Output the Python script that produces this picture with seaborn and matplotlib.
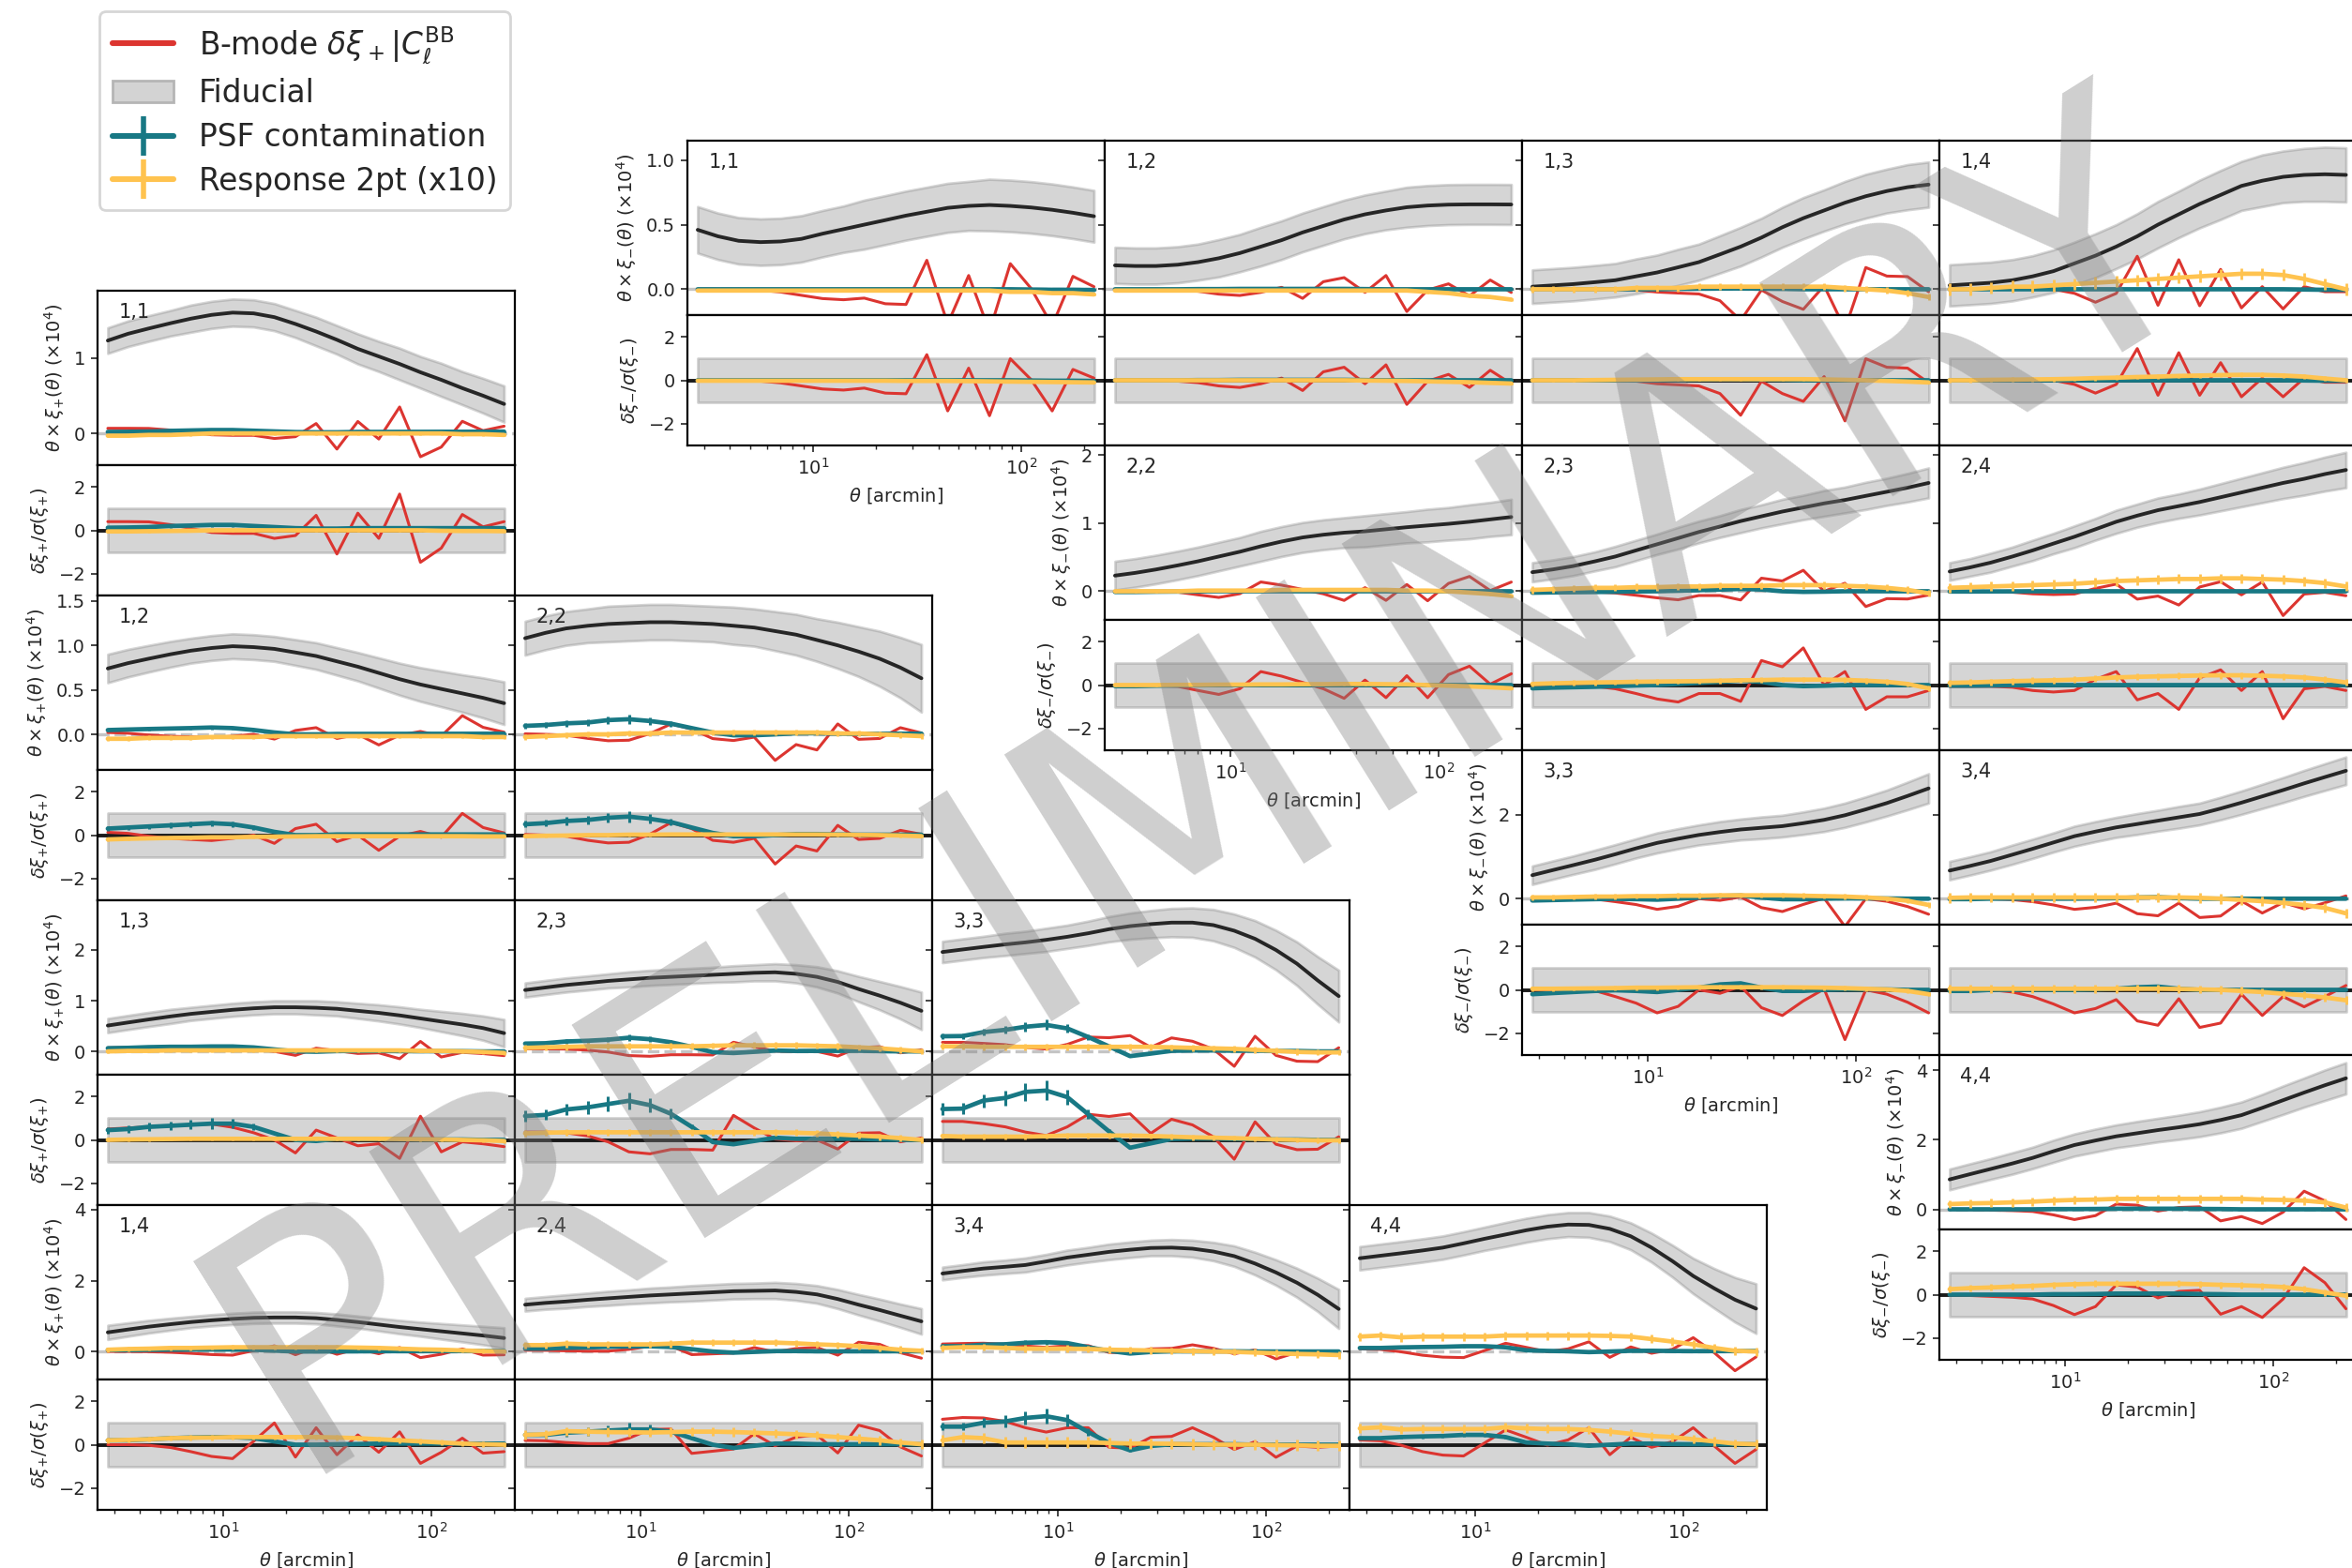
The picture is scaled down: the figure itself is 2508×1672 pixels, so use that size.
import matplotlib
matplotlib.use("Agg")
import matplotlib.pyplot as plt
from matplotlib.lines import Line2D
from matplotlib.patches import Patch
import seaborn as sns

# ---------------------------------------------------------------------------
# Angular bins (arcmin)
THETA = [2.8, 3.5, 4.4, 5.6, 7.0, 8.8, 11.1, 14.0, 17.6, 22.2,
         27.9, 35.1, 44.2, 55.7, 70.1, 88.2, 111.0, 140.0, 176.0, 222.0]

# ---------------------------------------------------------------------------
# xi_plus : fiducial (x1e4), 1-sigma, B-mode / sigma, PSF / sigma, PSF error / sigma,
#           response (x10, x1e4), response / sigma
XIP_11_FID = [1.23, 1.32, 1.39, 1.46, 1.52, 1.57, 1.60, 1.59, 1.54, 1.45, 1.35, 1.24, 1.12, 1.02, 0.92, 0.81, 0.71, 0.60, 0.50, 0.39]
XIP_11_SIG = [0.17, 0.17, 0.17, 0.17, 0.18, 0.18, 0.18, 0.18, 0.18, 0.18, 0.19, 0.19, 0.20, 0.20, 0.21, 0.21, 0.22, 0.22, 0.23, 0.24]
XIP_11_BMODE = [0.40, 0.40, 0.39, 0.26, 0.09, -0.10, -0.14, -0.14, -0.37, -0.24, 0.69, -1.09, 0.79, -0.37, 1.67, -1.47, -0.82, 0.73, 0.16, 0.40]
XIP_11_PSF = [0.12, 0.13, 0.15, 0.20, 0.22, 0.25, 0.25, 0.20, 0.15, 0.10, 0.08, 0.08, 0.10, 0.10, 0.10, 0.10, 0.10, 0.10, 0.10, 0.10]
XIP_11_PSF_ERR = [0.06, 0.06, 0.07, 0.08, 0.08, 0.09, 0.08, 0.07, 0.05, 0.04, 0.03, 0.03, 0.03, 0.03, 0.03, 0.03, 0.03, 0.03, 0.03, 0.03]
XIP_11_RESP = [-0.03, -0.03, -0.02, -0.02, -0.01, 0.0, 0.0, 0.0, 0.0, 0.0, 0.0, 0.0, 0.0, 0.0, 0.0, 0.0, 0.0, -0.01, -0.01, -0.02]
XIP_11_RESP_SNR = [-0.05, -0.05, -0.04, -0.03, -0.02, 0.0, 0.0, 0.0, 0.0, 0.0, 0.0, 0.0, 0.0, 0.0, 0.0, 0.0, -0.02, -0.03, -0.03, -0.04]

XIP_12_FID = [0.74, 0.80, 0.85, 0.90, 0.94, 0.97, 0.99, 0.98, 0.96, 0.92, 0.88, 0.82, 0.76, 0.69, 0.62, 0.56, 0.51, 0.46, 0.41, 0.35]
XIP_12_SIG = [0.16, 0.155, 0.15, 0.145, 0.14, 0.14, 0.14, 0.14, 0.14, 0.145, 0.15, 0.155, 0.16, 0.17, 0.18, 0.19, 0.20, 0.21, 0.225, 0.24]
XIP_12_BMODE = [0.13, 0.08, -0.05, -0.15, -0.20, -0.25, -0.15, 0.0, -0.38, 0.30, 0.50, -0.30, 0.0, -0.70, -0.05, 0.17, -0.10, 1.00, 0.35, 0.10]
XIP_12_PSF = [0.30, 0.35, 0.40, 0.45, 0.50, 0.55, 0.50, 0.35, 0.15, 0.0, 0.0, 0.03, 0.03, 0.03, 0.03, 0.03, 0.03, 0.03, 0.03, 0.03]
XIP_12_PSF_ERR = [0.10, 0.10, 0.11, 0.12, 0.13, 0.14, 0.13, 0.10, 0.06, 0.04, 0.03, 0.03, 0.03, 0.03, 0.03, 0.03, 0.03, 0.03, 0.03, 0.03]
XIP_12_RESP = [-0.05, -0.05, -0.04, -0.04, -0.04, -0.03, -0.03, -0.03, -0.02, -0.02, -0.02, -0.02, -0.02, -0.02, -0.02, -0.02, -0.02, -0.02, -0.03, -0.03]
XIP_12_RESP_SNR = [-0.20, -0.17, -0.15, -0.13, -0.12, -0.10, -0.10, -0.08, -0.07, -0.06, -0.05, -0.05, -0.05, -0.05, -0.05, -0.05, -0.05, -0.05, -0.06, -0.06]

XIP_22_FID = [1.08, 1.14, 1.19, 1.22, 1.24, 1.25, 1.26, 1.26, 1.25, 1.24, 1.22, 1.20, 1.16, 1.12, 1.06, 1.00, 0.93, 0.85, 0.75, 0.63]
XIP_22_SIG = [0.19, 0.19, 0.19, 0.19, 0.20, 0.20, 0.20, 0.20, 0.20, 0.20, 0.21, 0.21, 0.22, 0.23, 0.24, 0.26, 0.28, 0.31, 0.34, 0.38]
XIP_22_BMODE = [0.03, 0.0, -0.05, -0.24, -0.36, -0.33, 0.04, 0.58, 0.30, -0.24, -0.33, -0.15, -1.33, -0.50, -0.73, 0.45, -0.20, -0.15, 0.22, 0.04]
XIP_22_PSF = [0.50, 0.55, 0.65, 0.70, 0.80, 0.85, 0.75, 0.60, 0.35, 0.10, -0.05, -0.05, 0.0, 0.05, 0.05, 0.03, 0.02, 0.02, 0.02, 0.02]
XIP_22_PSF_ERR = [0.15, 0.16, 0.18, 0.20, 0.22, 0.25, 0.21, 0.15, 0.08, 0.05, 0.03, 0.03, 0.03, 0.03, 0.03, 0.03, 0.03, 0.03, 0.03, 0.03]
XIP_22_RESP = [-0.03, -0.02, -0.01, 0.0, 0.0, 0.01, 0.01, 0.02, 0.02, 0.02, 0.02, 0.02, 0.02, 0.02, 0.02, 0.01, 0.01, 0.0, -0.01, -0.02]
XIP_22_RESP_SNR = [-0.05, -0.03, -0.02, 0.0, 0.0, 0.02, 0.02, 0.03, 0.03, 0.03, 0.03, 0.03, 0.03, 0.03, 0.03, 0.02, 0.01, 0.0, -0.02, -0.05]

XIP_13_FID = [0.51, 0.57, 0.63, 0.69, 0.74, 0.78, 0.82, 0.85, 0.87, 0.87, 0.86, 0.84, 0.80, 0.76, 0.71, 0.65, 0.59, 0.53, 0.46, 0.36]
XIP_13_SIG = [0.14, 0.14, 0.14, 0.14, 0.13, 0.13, 0.13, 0.13, 0.13, 0.13, 0.14, 0.14, 0.15, 0.16, 0.17, 0.18, 0.20, 0.22, 0.24, 0.27]
XIP_13_BMODE = [0.50, 0.55, 0.60, 0.64, 0.69, 0.73, 0.58, 0.33, 0.0, -0.60, 0.45, 0.09, -0.27, -0.18, -0.85, 1.09, -0.55, -0.09, -0.18, -0.31]
XIP_13_PSF = [0.45, 0.50, 0.60, 0.65, 0.70, 0.75, 0.75, 0.60, 0.30, 0.0, -0.05, 0.05, 0.05, 0.05, 0.03, 0.02, 0.02, 0.02, 0.0, 0.0]
XIP_13_PSF_ERR = [0.15, 0.16, 0.18, 0.20, 0.22, 0.25, 0.21, 0.15, 0.08, 0.05, 0.03, 0.03, 0.03, 0.03, 0.03, 0.03, 0.03, 0.03, 0.03, 0.03]
XIP_13_RESP = [0.0, 0.01, 0.01, 0.02, 0.02, 0.02, 0.02, 0.02, 0.02, 0.02, 0.02, 0.02, 0.02, 0.02, 0.02, 0.01, 0.01, 0.0, -0.01, -0.03]
XIP_13_RESP_SNR = [0.0, 0.02, 0.03, 0.04, 0.05, 0.05, 0.05, 0.05, 0.05, 0.05, 0.05, 0.05, 0.05, 0.05, 0.04, 0.03, 0.02, 0.0, -0.02, -0.05]

XIP_23_FID = [1.21, 1.26, 1.31, 1.35, 1.39, 1.42, 1.45, 1.47, 1.49, 1.51, 1.53, 1.55, 1.56, 1.53, 1.47, 1.37, 1.23, 1.10, 0.96, 0.80]
XIP_23_SIG = [0.14, 0.14, 0.14, 0.14, 0.14, 0.15, 0.15, 0.15, 0.15, 0.15, 0.16, 0.16, 0.17, 0.18, 0.20, 0.22, 0.25, 0.28, 0.32, 0.37]
XIP_23_BMODE = [0.36, 0.36, 0.33, 0.18, -0.09, -0.55, -0.64, -0.44, -0.44, -0.47, 1.13, 0.55, 0.04, -0.04, 0.0, -0.42, 0.31, 0.33, -0.09, 0.09]
XIP_23_PSF = [1.10, 1.15, 1.40, 1.50, 1.65, 1.80, 1.60, 1.20, 0.60, -0.10, -0.20, -0.05, 0.10, 0.05, 0.05, 0.05, 0.05, 0.02, 0.0, 0.0]
XIP_23_PSF_ERR = [0.24, 0.24, 0.27, 0.30, 0.34, 0.40, 0.34, 0.24, 0.12, 0.06, 0.04, 0.03, 0.03, 0.03, 0.03, 0.03, 0.03, 0.03, 0.03, 0.03]
XIP_23_RESP = [0.07, 0.08, 0.09, 0.10, 0.10, 0.10, 0.10, 0.10, 0.10, 0.11, 0.12, 0.12, 0.12, 0.12, 0.11, 0.10, 0.08, 0.06, 0.03, 0.0]
XIP_23_RESP_SNR = [0.30, 0.33, 0.35, 0.35, 0.35, 0.35, 0.35, 0.35, 0.35, 0.35, 0.35, 0.35, 0.35, 0.33, 0.30, 0.25, 0.20, 0.15, 0.08, 0.0]

XIP_33_FID = [1.96, 2.01, 2.06, 2.11, 2.15, 2.20, 2.26, 2.33, 2.41, 2.47, 2.51, 2.54, 2.54, 2.49, 2.38, 2.22, 2.00, 1.73, 1.40, 1.09]
XIP_33_SIG = [0.21, 0.21, 0.21, 0.22, 0.22, 0.23, 0.23, 0.24, 0.25, 0.26, 0.27, 0.28, 0.29, 0.31, 0.33, 0.36, 0.39, 0.43, 0.47, 0.51]
XIP_33_BMODE = [0.85, 0.85, 0.75, 0.60, 0.36, 0.20, 0.60, 1.18, 1.08, 1.20, 0.30, 0.95, 0.69, 0.14, -0.89, 0.83, -0.20, -0.45, -0.43, 0.14]
XIP_33_PSF = [1.42, 1.44, 1.81, 1.93, 2.21, 2.27, 1.97, 1.18, 0.39, -0.36, -0.16, 0.04, 0.06, 0.06, 0.04, 0.04, 0.02, 0.02, 0.0, 0.0]
XIP_33_PSF_ERR = [0.27, 0.27, 0.30, 0.34, 0.40, 0.45, 0.35, 0.22, 0.11, 0.06, 0.04, 0.03, 0.03, 0.03, 0.03, 0.03, 0.03, 0.03, 0.03, 0.03]
XIP_33_RESP = [0.10, 0.10, 0.09, 0.09, 0.09, 0.09, 0.09, 0.09, 0.09, 0.09, 0.09, 0.08, 0.07, 0.06, 0.05, 0.03, 0.01, -0.01, -0.02, -0.02]
XIP_33_RESP_SNR = [0.18, 0.15, 0.15, 0.15, 0.15, 0.17, 0.20, 0.20, 0.20, 0.20, 0.18, 0.15, 0.12, 0.10, 0.08, 0.05, 0.02, 0.0, -0.02, -0.02]

XIP_14_FID = [0.54, 0.62, 0.70, 0.77, 0.83, 0.88, 0.92, 0.95, 0.96, 0.96, 0.94, 0.89, 0.83, 0.76, 0.69, 0.63, 0.57, 0.51, 0.45, 0.38]
XIP_14_SIG = [0.20, 0.19, 0.18, 0.17, 0.16, 0.16, 0.16, 0.16, 0.16, 0.16, 0.16, 0.17, 0.17, 0.18, 0.19, 0.20, 0.22, 0.24, 0.26, 0.29]
XIP_14_BMODE = [0.0, 0.0, -0.03, -0.13, -0.32, -0.54, -0.64, 0.16, 1.00, -0.57, 0.78, -0.46, 0.45, -0.35, 0.59, -0.86, -0.35, 0.30, -0.39, -0.32]
XIP_14_PSF = [0.20, 0.20, 0.25, 0.30, 0.33, 0.35, 0.35, 0.30, 0.15, 0.0, 0.0, 0.02, 0.03, 0.05, 0.05, 0.05, 0.05, 0.05, 0.05, 0.05]
XIP_14_PSF_ERR = [0.06, 0.06, 0.07, 0.08, 0.08, 0.09, 0.08, 0.07, 0.05, 0.04, 0.03, 0.03, 0.03, 0.03, 0.03, 0.03, 0.03, 0.03, 0.03, 0.03]
XIP_14_RESP = [0.05, 0.07, 0.08, 0.10, 0.10, 0.11, 0.12, 0.12, 0.12, 0.12, 0.12, 0.12, 0.11, 0.10, 0.08, 0.06, 0.05, 0.03, 0.01, 0.0]
XIP_14_RESP_SNR = [0.20, 0.22, 0.25, 0.30, 0.32, 0.33, 0.35, 0.35, 0.35, 0.35, 0.35, 0.33, 0.30, 0.25, 0.20, 0.15, 0.10, 0.05, 0.02, 0.0]

XIP_24_FID = [1.32, 1.37, 1.41, 1.46, 1.50, 1.54, 1.58, 1.61, 1.64, 1.67, 1.70, 1.71, 1.72, 1.68, 1.61, 1.48, 1.32, 1.17, 1.01, 0.85]
XIP_24_SIG = [0.18, 0.18, 0.19, 0.19, 0.20, 0.20, 0.21, 0.21, 0.22, 0.22, 0.22, 0.22, 0.23, 0.24, 0.25, 0.27, 0.29, 0.31, 0.33, 0.36]
XIP_24_BMODE = [0.20, 0.18, 0.10, 0.05, 0.05, 0.30, 0.70, 0.72, -0.40, -0.30, -0.20, 0.50, -0.05, 0.35, 0.45, -0.38, 0.90, 0.65, -0.10, -0.52]
XIP_24_PSF = [0.45, 0.45, 0.55, 0.60, 0.65, 0.70, 0.70, 0.60, 0.30, 0.0, -0.15, -0.05, 0.05, 0.05, 0.02, 0.02, 0.02, 0.02, 0.02, 0.02]
XIP_24_PSF_ERR = [0.15, 0.15, 0.17, 0.20, 0.24, 0.30, 0.24, 0.15, 0.08, 0.05, 0.03, 0.03, 0.03, 0.03, 0.03, 0.03, 0.03, 0.03, 0.03, 0.03]
XIP_24_RESP = [0.18, 0.18, 0.22, 0.20, 0.20, 0.20, 0.20, 0.22, 0.25, 0.25, 0.25, 0.25, 0.25, 0.23, 0.20, 0.18, 0.15, 0.10, 0.05, 0.02]
XIP_24_RESP_SNR = [0.45, 0.48, 0.62, 0.60, 0.58, 0.57, 0.56, 0.58, 0.60, 0.60, 0.58, 0.55, 0.52, 0.48, 0.42, 0.35, 0.28, 0.20, 0.10, 0.02]

XIP_34_FID = [2.20, 2.27, 2.34, 2.39, 2.44, 2.54, 2.65, 2.73, 2.81, 2.87, 2.92, 2.93, 2.90, 2.82, 2.69, 2.48, 2.23, 1.94, 1.60, 1.20]
XIP_34_SIG = [0.18, 0.18, 0.19, 0.19, 0.20, 0.20, 0.21, 0.21, 0.22, 0.22, 0.22, 0.23, 0.24, 0.26, 0.29, 0.32, 0.36, 0.41, 0.47, 0.55]
XIP_34_BMODE = [1.17, 1.25, 1.23, 1.07, 0.78, 0.58, 0.78, 0.78, -0.12, -0.16, 0.34, 0.38, 0.78, 0.34, -0.22, 0.14, -0.58, -0.06, -0.12, -0.06]
XIP_34_PSF = [0.83, 0.83, 1.01, 1.07, 1.23, 1.31, 1.13, 0.58, 0.08, -0.26, -0.06, 0.02, 0.02, 0.02, 0.02, 0.0, 0.0, 0.0, 0.0, 0.0]
XIP_34_PSF_ERR = [0.18, 0.18, 0.23, 0.28, 0.32, 0.35, 0.28, 0.17, 0.09, 0.05, 0.03, 0.03, 0.03, 0.03, 0.03, 0.03, 0.03, 0.03, 0.03, 0.03]
XIP_34_RESP = [0.10, 0.12, 0.12, 0.10, 0.08, 0.08, 0.08, 0.07, 0.05, 0.04, 0.03, 0.02, 0.01, 0.0, -0.01, -0.03, -0.05, -0.07, -0.08, -0.10]
XIP_34_RESP_SNR = [0.20, 0.35, 0.30, 0.10, 0.10, 0.10, 0.10, 0.10, 0.08, 0.05, 0.05, 0.04, 0.02, 0.0, 0.0, 0.0, -0.02, -0.03, -0.05, -0.05]

XIP_44_FID = [2.63, 2.70, 2.77, 2.85, 2.93, 3.05, 3.18, 3.30, 3.42, 3.52, 3.58, 3.57, 3.46, 3.25, 2.93, 2.55, 2.13, 1.78, 1.46, 1.21]
XIP_44_SIG = [0.33, 0.33, 0.33, 0.33, 0.33, 0.33, 0.33, 0.34, 0.34, 0.34, 0.34, 0.35, 0.36, 0.38, 0.41, 0.45, 0.50, 0.56, 0.63, 0.70]
XIP_44_BMODE = [0.22, 0.18, -0.02, -0.32, -0.48, -0.52, 0.08, 0.68, 0.34, -0.02, 0.22, 0.78, -0.46, 0.34, -0.12, 0.14, 0.78, -0.06, -0.86, -0.22]
XIP_44_PSF = [0.30, 0.30, 0.35, 0.38, 0.40, 0.45, 0.45, 0.35, 0.10, 0.05, 0.02, -0.05, 0.0, 0.05, 0.05, 0.03, 0.02, 0.02, 0.02, 0.02]
XIP_44_PSF_ERR = [0.07, 0.07, 0.08, 0.08, 0.09, 0.10, 0.09, 0.07, 0.05, 0.04, 0.03, 0.03, 0.03, 0.03, 0.03, 0.03, 0.03, 0.03, 0.03, 0.03]
XIP_44_RESP = [0.42, 0.45, 0.40, 0.42, 0.42, 0.42, 0.42, 0.45, 0.45, 0.45, 0.45, 0.45, 0.44, 0.42, 0.35, 0.28, 0.20, 0.10, 0.02, 0.0]
XIP_44_RESP_SNR = [0.75, 0.80, 0.70, 0.72, 0.72, 0.72, 0.72, 0.80, 0.75, 0.72, 0.72, 0.68, 0.60, 0.50, 0.40, 0.35, 0.25, 0.15, 0.05, 0.02]

# ---------------------------------------------------------------------------
# xi_minus : same quantities
XIM_11_FID = [0.46, 0.41, 0.375, 0.365, 0.37, 0.39, 0.43, 0.465, 0.50, 0.535, 0.57, 0.60, 0.63, 0.645, 0.652, 0.645, 0.633, 0.615, 0.592, 0.565]
XIM_11_SIG = [0.18, 0.18, 0.18, 0.18, 0.18, 0.18, 0.18, 0.18, 0.19, 0.19, 0.19, 0.19, 0.19, 0.19, 0.20, 0.20, 0.20, 0.20, 0.20, 0.20]
XIM_11_BMODE = [0.0, 0.0, 0.0, -0.04, -0.12, -0.26, -0.40, -0.45, -0.36, -0.59, -0.62, 1.18, -1.41, 0.56, -1.63, 0.99, 0.03, -1.41, 0.50, 0.10]
XIM_11_PSF = [0.0, 0.0, 0.0, 0.0, 0.0, 0.0, 0.0, 0.0, 0.0, 0.0, 0.0, 0.0, 0.0, 0.0, 0.0, 0.0, -0.01, -0.02, -0.02, -0.03]
XIM_11_RESP = [-0.01, -0.01, -0.01, -0.01, -0.01, -0.01, -0.01, -0.01, -0.01, -0.01, -0.01, -0.01, -0.01, -0.01, -0.01, -0.02, -0.02, -0.03, -0.03, -0.04]
XIM_11_RESP_SNR = [-0.02, -0.02, -0.02, -0.02, -0.02, -0.02, -0.02, -0.02, -0.02, -0.02, -0.03, -0.03, -0.03, -0.04, -0.05, -0.06, -0.07, -0.08, -0.09, -0.10]

XIM_12_FID = [0.185, 0.18, 0.18, 0.19, 0.21, 0.24, 0.28, 0.33, 0.38, 0.44, 0.49, 0.54, 0.58, 0.61, 0.635, 0.648, 0.655, 0.657, 0.657, 0.656]
XIM_12_SIG = [0.14, 0.14, 0.14, 0.14, 0.14, 0.145, 0.145, 0.15, 0.15, 0.15, 0.15, 0.15, 0.15, 0.15, 0.155, 0.155, 0.155, 0.155, 0.155, 0.155]
XIM_12_BMODE = [0.0, 0.0, 0.0, -0.04, -0.11, -0.26, -0.33, -0.16, 0.10, -0.47, 0.39, 0.60, -0.16, 0.71, -1.11, -0.04, 0.27, -0.33, 0.46, -0.16]
XIM_12_PSF = [0.0, 0.0, 0.0, 0.0, 0.01, 0.01, 0.02, 0.02, 0.02, 0.02, 0.02, 0.02, 0.01, 0.0, 0.0, 0.0, 0.0, 0.0, 0.0, 0.0]
XIM_12_RESP = [-0.01, -0.01, -0.01, -0.01, -0.01, -0.01, -0.01, -0.01, -0.01, -0.01, -0.01, -0.01, -0.01, -0.01, -0.01, -0.02, -0.03, -0.05, -0.06, -0.08]
XIM_12_RESP_SNR = [0.0, 0.0, 0.0, 0.0, 0.0, 0.0, 0.0, 0.0, 0.0, 0.0, 0.0, 0.0, -0.01, -0.02, -0.03, -0.05, -0.07, -0.09, -0.12, -0.15]

XIM_13_FID = [0.02, 0.03, 0.04, 0.055, 0.07, 0.10, 0.13, 0.17, 0.21, 0.27, 0.33, 0.40, 0.48, 0.55, 0.61, 0.67, 0.72, 0.76, 0.79, 0.81]
XIM_13_SIG = [0.13, 0.13, 0.13, 0.13, 0.13, 0.135, 0.135, 0.14, 0.14, 0.145, 0.15, 0.15, 0.155, 0.16, 0.16, 0.165, 0.17, 0.17, 0.175, 0.175]
XIM_13_BMODE = [0.0, 0.0, 0.0, 0.0, 0.0, -0.04, -0.16, -0.21, -0.26, -0.61, -1.61, -0.04, -0.61, -0.97, 0.17, -1.87, 0.99, 0.60, 0.56, -0.11]
XIM_13_PSF = [0.0, 0.0, 0.0, 0.0, 0.0, 0.0, 0.0, 0.02, 0.03, 0.04, 0.04, 0.03, 0.02, 0.0, 0.0, 0.0, 0.0, 0.0, 0.0, 0.0]
XIM_13_RESP = [0.0, 0.0, 0.0, 0.0, 0.0, 0.01, 0.01, 0.01, 0.02, 0.02, 0.02, 0.02, 0.02, 0.02, 0.02, 0.01, 0.0, -0.01, -0.03, -0.06]
XIM_13_RESP_SNR = [0.0, 0.0, 0.0, 0.01, 0.02, 0.03, 0.04, 0.05, 0.05, 0.05, 0.05, 0.05, 0.05, 0.05, 0.04, 0.02, 0.0, -0.03, -0.06, -0.10]

XIM_14_FID = [0.03, 0.04, 0.05, 0.07, 0.10, 0.14, 0.20, 0.26, 0.33, 0.41, 0.50, 0.58, 0.66, 0.73, 0.80, 0.84, 0.87, 0.885, 0.89, 0.885]
XIM_14_SIG = [0.16, 0.16, 0.16, 0.16, 0.16, 0.165, 0.165, 0.17, 0.17, 0.175, 0.18, 0.18, 0.185, 0.19, 0.19, 0.20, 0.20, 0.205, 0.21, 0.21]
XIM_14_BMODE = [0.0, 0.0, 0.0, 0.0, 0.0, 0.0, -0.19, -0.59, -0.19, 1.46, -0.69, 1.27, -0.69, 0.81, -0.76, 0.10, -0.76, 0.10, -0.09, -0.09]
XIM_14_PSF = [0.0, 0.0, 0.0, 0.0, 0.0, 0.0, 0.0, 0.0, 0.0, 0.0, 0.0, 0.0, 0.0, 0.0, 0.0, 0.0, 0.0, -0.01, -0.02, -0.02]
XIM_14_RESP = [0.0, 0.0, 0.01, 0.02, 0.02, 0.03, 0.04, 0.05, 0.06, 0.07, 0.08, 0.09, 0.10, 0.11, 0.12, 0.12, 0.11, 0.08, 0.04, 0.0]
XIM_14_RESP_SNR = [0.0, 0.0, 0.02, 0.03, 0.04, 0.05, 0.07, 0.10, 0.12, 0.15, 0.17, 0.20, 0.22, 0.24, 0.25, 0.25, 0.22, 0.17, 0.08, 0.0]

XIM_22_FID = [0.23, 0.27, 0.32, 0.38, 0.44, 0.51, 0.58, 0.66, 0.73, 0.79, 0.83, 0.86, 0.88, 0.91, 0.94, 0.965, 0.99, 1.02, 1.055, 1.09]
XIM_22_SIG = [0.21, 0.21, 0.21, 0.21, 0.21, 0.21, 0.21, 0.22, 0.22, 0.22, 0.22, 0.22, 0.23, 0.23, 0.23, 0.24, 0.24, 0.25, 0.25, 0.26]
XIM_22_BMODE = [0.0, -0.03, -0.03, -0.06, -0.25, -0.43, -0.17, 0.62, 0.41, 0.12, -0.17, -0.61, 0.23, -0.58, 0.43, -0.58, 0.48, 0.87, 0.04, 0.52]
XIM_22_PSF = [-0.05, -0.05, -0.03, -0.02, -0.01, 0.0, 0.0, 0.0, 0.0, 0.0, 0.0, 0.0, 0.0, 0.0, 0.0, 0.0, 0.0, 0.0, 0.0, 0.0]
XIM_22_RESP = [0.0, 0.0, 0.0, 0.0, 0.01, 0.01, 0.01, 0.01, 0.02, 0.02, 0.02, 0.02, 0.02, 0.02, 0.01, 0.01, 0.0, -0.02, -0.04, -0.07]
XIM_22_RESP_SNR = [0.0, 0.0, 0.0, 0.01, 0.01, 0.02, 0.02, 0.03, 0.03, 0.04, 0.04, 0.05, 0.05, 0.04, 0.03, 0.0, -0.03, -0.06, -0.10, -0.15]

XIM_23_FID = [0.28, 0.32, 0.37, 0.44, 0.51, 0.60, 0.69, 0.78, 0.87, 0.95, 1.03, 1.10, 1.17, 1.23, 1.29, 1.34, 1.40, 1.46, 1.52, 1.59]
XIM_23_SIG = [0.14, 0.14, 0.14, 0.14, 0.15, 0.15, 0.15, 0.16, 0.16, 0.16, 0.17, 0.17, 0.18, 0.18, 0.19, 0.19, 0.20, 0.20, 0.21, 0.22]
XIM_23_BMODE = [-0.10, -0.10, -0.06, -0.06, -0.17, -0.39, -0.64, -0.78, -0.39, -0.39, -0.75, 1.13, 0.84, 1.71, 0.0, 0.62, -1.12, -0.54, -0.54, -0.25]
XIM_23_PSF = [-0.15, -0.12, -0.10, -0.08, -0.05, -0.02, 0.0, 0.05, 0.10, 0.15, 0.20, 0.15, 0.0, -0.05, -0.03, 0.0, 0.0, 0.0, 0.0, 0.0]
XIM_23_RESP = [0.02, 0.03, 0.04, 0.05, 0.05, 0.06, 0.06, 0.07, 0.07, 0.08, 0.08, 0.08, 0.09, 0.09, 0.09, 0.08, 0.07, 0.05, 0.02, -0.03]
XIM_23_RESP_SNR = [0.05, 0.08, 0.10, 0.12, 0.13, 0.15, 0.16, 0.17, 0.18, 0.20, 0.22, 0.23, 0.25, 0.25, 0.25, 0.24, 0.20, 0.15, 0.05, -0.15]

XIM_24_FID = [0.29, 0.35, 0.42, 0.51, 0.60, 0.70, 0.80, 0.91, 1.02, 1.11, 1.19, 1.25, 1.31, 1.38, 1.45, 1.52, 1.59, 1.65, 1.72, 1.78]
XIM_24_SIG = [0.13, 0.13, 0.14, 0.14, 0.15, 0.15, 0.16, 0.16, 0.17, 0.17, 0.18, 0.18, 0.19, 0.20, 0.21, 0.22, 0.23, 0.24, 0.25, 0.26]
XIM_24_BMODE = [-0.06, -0.06, -0.06, -0.10, -0.25, -0.32, -0.25, 0.26, 0.62, -0.68, -0.39, -1.12, 0.33, 0.70, -0.25, 0.62, -1.55, -0.17, -0.06, -0.25]
XIM_24_PSF = [-0.03, -0.03, -0.02, -0.01, 0.0, 0.0, 0.0, 0.0, 0.0, 0.0, 0.0, 0.0, 0.0, 0.0, 0.0, 0.0, 0.0, 0.0, 0.0, 0.0]
XIM_24_RESP = [0.05, 0.06, 0.07, 0.08, 0.09, 0.10, 0.11, 0.13, 0.15, 0.16, 0.17, 0.18, 0.18, 0.19, 0.19, 0.18, 0.17, 0.15, 0.12, 0.07]
XIM_24_RESP_SNR = [0.10, 0.12, 0.15, 0.18, 0.20, 0.22, 0.25, 0.30, 0.35, 0.38, 0.40, 0.42, 0.44, 0.45, 0.45, 0.43, 0.40, 0.35, 0.25, 0.12]

XIM_33_FID = [0.56, 0.68, 0.80, 0.93, 1.06, 1.20, 1.33, 1.43, 1.52, 1.59, 1.65, 1.69, 1.73, 1.80, 1.88, 1.99, 2.13, 2.28, 2.45, 2.63]
XIM_33_SIG = [0.22, 0.22, 0.22, 0.23, 0.23, 0.23, 0.24, 0.24, 0.24, 0.25, 0.25, 0.26, 0.26, 0.27, 0.28, 0.29, 0.30, 0.31, 0.33, 0.35]
XIM_33_BMODE = [0.0, 0.0, 0.0, -0.04, -0.31, -0.61, -1.06, -0.76, 0.0, -0.16, 0.16, -0.82, -1.18, -0.51, 0.04, -2.29, 0.0, -0.20, -0.57, -1.06]
XIM_33_PSF = [-0.20, -0.15, -0.10, -0.05, -0.02, -0.05, -0.10, 0.0, 0.10, 0.25, 0.30, 0.10, -0.05, -0.05, 0.0, 0.02, 0.02, 0.02, 0.0, 0.0]
XIM_33_RESP = [0.03, 0.03, 0.04, 0.05, 0.05, 0.06, 0.06, 0.07, 0.07, 0.08, 0.08, 0.08, 0.08, 0.07, 0.06, 0.05, 0.03, 0.0, -0.05, -0.15]
XIM_33_RESP_SNR = [0.05, 0.05, 0.06, 0.07, 0.08, 0.10, 0.10, 0.11, 0.12, 0.12, 0.12, 0.12, 0.12, 0.11, 0.10, 0.08, 0.05, 0.02, -0.05, -0.20]

XIM_34_FID = [0.67, 0.78, 0.90, 1.05, 1.19, 1.34, 1.49, 1.60, 1.70, 1.78, 1.86, 1.94, 2.02, 2.15, 2.29, 2.44, 2.59, 2.75, 2.90, 3.05]
XIM_34_SIG = [0.22, 0.22, 0.22, 0.23, 0.23, 0.23, 0.24, 0.24, 0.24, 0.25, 0.25, 0.26, 0.26, 0.27, 0.28, 0.29, 0.30, 0.31, 0.32, 0.33]
XIM_34_BMODE = [-0.04, 0.0, 0.0, -0.10, -0.31, -0.65, -1.06, -0.86, -0.45, -1.43, -1.63, -0.41, -1.73, -1.53, -0.20, -1.18, -0.31, -0.78, -0.31, 0.20]
XIM_34_PSF = [-0.05, -0.05, 0.0, 0.0, 0.0, 0.0, 0.0, 0.02, 0.05, 0.12, 0.15, 0.05, 0.0, 0.0, 0.0, 0.0, 0.0, 0.0, 0.0, 0.0]
XIM_34_RESP = [0.02, 0.03, 0.03, 0.03, 0.03, 0.03, 0.03, 0.03, 0.03, 0.03, 0.03, 0.03, 0.02, 0.0, -0.03, -0.06, -0.10, -0.15, -0.22, -0.35]
XIM_34_RESP_SNR = [0.05, 0.05, 0.05, 0.05, 0.05, 0.05, 0.05, 0.05, 0.05, 0.05, 0.05, 0.04, 0.02, 0.0, -0.05, -0.10, -0.18, -0.25, -0.35, -0.48]

XIM_44_FID = [0.86, 1.01, 1.16, 1.32, 1.48, 1.67, 1.85, 1.98, 2.10, 2.19, 2.28, 2.36, 2.45, 2.57, 2.71, 2.92, 3.14, 3.36, 3.57, 3.77]
XIM_44_SIG = [0.30, 0.30, 0.30, 0.31, 0.31, 0.32, 0.32, 0.33, 0.33, 0.34, 0.34, 0.35, 0.36, 0.37, 0.38, 0.39, 0.41, 0.42, 0.44, 0.45]
XIM_44_BMODE = [-0.02, -0.04, -0.08, -0.12, -0.20, -0.50, -0.92, -0.55, 0.45, 0.35, -0.15, 0.15, 0.20, -0.90, -0.55, -1.05, -0.20, 1.24, 0.55, -0.65]
XIM_44_PSF = [0.0, 0.0, 0.0, 0.0, 0.0, 0.02, 0.02, 0.03, 0.05, 0.05, 0.05, 0.05, 0.03, 0.02, 0.0, 0.0, 0.0, 0.0, 0.0, 0.0]
XIM_44_RESP = [0.15, 0.17, 0.18, 0.20, 0.22, 0.25, 0.27, 0.28, 0.30, 0.30, 0.30, 0.30, 0.30, 0.30, 0.30, 0.28, 0.27, 0.25, 0.20, 0.05]
XIM_44_RESP_SNR = [0.25, 0.30, 0.33, 0.37, 0.40, 0.45, 0.48, 0.50, 0.50, 0.50, 0.50, 0.50, 0.48, 0.45, 0.43, 0.40, 0.35, 0.25, 0.10, -0.05]

# PSF error (in sigma units) for the xi_minus pairs
XIM_PSF_ERR = [0.03, 0.03, 0.03, 0.03, 0.03, 0.03, 0.03, 0.03, 0.03, 0.03, 0.03, 0.03, 0.03, 0.03, 0.03, 0.03, 0.03, 0.03, 0.03, 0.03]

# Response error bars per pair: (upper panel, lower panel)
RESP_ERR_XIP = {(1, 1): (0.02, 0.05), (1, 2): (0.025, 0.06), (2, 2): (0.03, 0.07),
                (1, 3): (0.035, 0.08), (2, 3): (0.06, 0.15), (3, 3): (0.06, 0.12),
                (1, 4): (0.06, 0.12), (2, 4): (0.10, 0.20), (3, 4): (0.10, 0.25),
                (4, 4): (0.12, 0.20)}
RESP_ERR_XIM = {(1, 1): (0.005, 0.02), (1, 2): (0.01, 0.03), (1, 3): (0.025, 0.05),
                (1, 4): (0.045, 0.10), (2, 2): (0.02, 0.05), (2, 3): (0.05, 0.12),
                (2, 4): (0.07, 0.15), (3, 3): (0.06, 0.10), (3, 4): (0.12, 0.18),
                (4, 4): (0.12, 0.15)}

PAIRS = [(1, 1), (1, 2), (1, 3), (1, 4), (2, 2), (2, 3), (2, 4), (3, 3), (3, 4), (4, 4)]

# Row-wise y ranges of the correlation-function panels
YLIM_P = {1: (-0.42, 1.89), 2: (-0.40, 1.56), 3: (-0.46, 2.98), 4: (-0.79, 4.13)}
YTICK_P = {1: [0, 1], 2: [0.0, 0.5, 1.0, 1.5], 3: [0, 1, 2], 4: [0, 2, 4]}
YLIM_M = {1: (-0.20, 1.15), 2: (-0.42, 2.14), 3: (-0.62, 3.54), 4: (-0.58, 4.44)}
YTICK_M = {1: [0.0, 0.5, 1.0], 2: [0, 1, 2], 3: [0, 2], 4: [0, 2, 4]}


def pair_data(prefix, i, j):
    g = globals()
    key = f"{prefix}_{i}{j}"
    errs = RESP_ERR_XIP if prefix == "XIP" else RESP_ERR_XIM
    return {
        "fid": g[key + "_FID"],
        "sig": g[key + "_SIG"],
        "bmode": g[key + "_BMODE"],
        "psf": g[key + "_PSF"],
        "psf_err": g.get(key + "_PSF_ERR", XIM_PSF_ERR),
        "resp": g[key + "_RESP"],
        "resp_snr": g[key + "_RESP_SNR"],
        "resp_err": errs[(i, j)],
    }


# ---------------------------------------------------------------------------
sns.set_theme(style="ticks", rc={
    "axes.edgecolor": "black",
    "axes.linewidth": 0.8,
    "xtick.major.size": 2.6, "ytick.major.size": 2.6,
    "xtick.minor.size": 1.5, "ytick.minor.size": 1.5,
    "xtick.major.width": 0.6, "ytick.major.width": 0.6,
    "xtick.minor.width": 0.5, "ytick.minor.width": 0.5,
    "xtick.labelsize": 7, "ytick.labelsize": 7,
    "axes.labelsize": 7,
    "xtick.major.pad": 2.0, "ytick.major.pad": 2.0,
})
plt.rcParams["font.family"] = ["DejaVu Sans"]
plt.rcParams["mathtext.fontset"] = "dejavusans"

RED = "#dc3530"
TEAL = "#187884"
YELLOW = "#ffc34f"
FIDC = "#262626"

W, H = 2508, 1672
DPI = 200
fig = plt.figure(figsize=(W / DPI, H / DPI), dpi=DPI)
fig.patch.set_facecolor("white")

PW, PH_TOP, PH_BOT = 445, 186, 139


def rect(left, top, w, h):
    return [left / W, 1 - (top + h) / H, w / W, h / H]


def draw_pair(ax_t, ax_b, d, label, ylim, yticks, show_y, show_x, which):
    sig = d["sig"]
    upper = [f + s for f, s in zip(d["fid"], sig)]
    lower = [f - s for f, s in zip(d["fid"], sig)]
    bm_top = [b * s for b, s in zip(d["bmode"], sig)]
    psf_top = [p * s for p, s in zip(d["psf"], sig)]
    psf_err_top = [e * s for e, s in zip(d["psf_err"], sig)]
    resp_err_top, resp_err_snr = d["resp_err"]

    for ax in (ax_t, ax_b):
        ax.set_xscale("log")
        ax.set_xlim(2.5, 250)

    # upper panel: theory band and systematics
    ax_t.fill_between(THETA, lower, upper, facecolor="gray", edgecolor="gray",
                      alpha=0.33, lw=1.0, zorder=1)
    ax_t.axhline(0, color="#c4c4c4", ls="--", lw=1.2, zorder=1.5)
    sns.lineplot(x=THETA, y=d["fid"], ax=ax_t, color=FIDC, lw=1.4, zorder=2)
    sns.lineplot(x=THETA, y=bm_top, ax=ax_t, color=RED, lw=1.1, zorder=3)
    sns.lineplot(x=THETA, y=psf_top, ax=ax_t, color=TEAL, lw=1.7, zorder=4)
    ax_t.errorbar(THETA, psf_top, yerr=psf_err_top, fmt="none", ecolor=TEAL,
                  elinewidth=1.1, capsize=0, zorder=4)
    sns.lineplot(x=THETA, y=d["resp"], ax=ax_t, color=YELLOW, lw=1.7, zorder=5)
    ax_t.errorbar(THETA, d["resp"], yerr=resp_err_top, fmt="none", ecolor=YELLOW,
                  elinewidth=1.0, capsize=0, zorder=5)
    ax_t.set_ylim(*ylim)
    ax_t.set_yticks(yticks)
    ax_t.tick_params(labelbottom=False)
    ax_t.text(0.05, 0.93, label, transform=ax_t.transAxes, ha="left", va="top",
              fontsize=7.5)

    # lower panel: systematics in units of the statistical error
    ax_b.fill_between([THETA[0], THETA[-1]], [-1, -1], [1, 1], facecolor="gray",
                      edgecolor="gray", alpha=0.33, lw=1.0, zorder=1)
    ax_b.axhline(0, color="#1a1a1a", lw=1.4, zorder=1.5)
    sns.lineplot(x=THETA, y=d["bmode"], ax=ax_b, color=RED, lw=1.1, zorder=3)
    sns.lineplot(x=THETA, y=d["psf"], ax=ax_b, color=TEAL, lw=1.7, zorder=4)
    ax_b.errorbar(THETA, d["psf"], yerr=d["psf_err"], fmt="none", ecolor=TEAL,
                  elinewidth=1.1, capsize=0, zorder=4)
    sns.lineplot(x=THETA, y=d["resp_snr"], ax=ax_b, color=YELLOW, lw=1.7, zorder=5)
    ax_b.errorbar(THETA, d["resp_snr"], yerr=resp_err_snr, fmt="none", ecolor=YELLOW,
                  elinewidth=1.0, capsize=0, zorder=5)
    ax_b.set_ylim(-3, 3)
    ax_b.set_yticks([-2, 0, 2])

    for ax in (ax_t, ax_b):
        ax.set_xlabel("")
        ax.set_ylabel("")
        ax.tick_params(axis="both", which="both", direction="out")

    if show_y:
        ax_t.set_ylabel(r"$\theta\times\xi_{%s}(\theta)\ (\times10^4)$" % which, labelpad=3)
        ax_b.set_ylabel(r"$\delta\xi_{%s}/\sigma(\xi_{%s})$" % (which, which), labelpad=3)
    else:
        ax_t.tick_params(labelleft=False)
        ax_b.tick_params(labelleft=False)
    if show_x:
        ax_b.set_xlabel(r"$\theta$ [arcmin]", labelpad=3)
    else:
        ax_b.tick_params(labelbottom=False)


# xi_plus: lower-left triangle (column = first bin, row = second bin)
for (i, j) in PAIRS:
    c, r = i - 1, j - 1
    left, top = 104 + c * PW, 310 + r * (PH_TOP + PH_BOT)
    ax_t = fig.add_axes(rect(left, top, PW, PH_TOP))
    ax_b = fig.add_axes(rect(left, top + PH_TOP, PW, PH_BOT))
    draw_pair(ax_t, ax_b, pair_data("XIP", i, j), f"{i},{j}", YLIM_P[j], YTICK_P[j],
              show_y=(i == 1), show_x=(j == 4), which="+")

# xi_minus: upper-right triangle (row = first bin, column = second bin)
for (i, j) in PAIRS:
    r, c = i - 1, j - 1
    left, top = 733 + c * PW, 150 + r * (PH_TOP + PH_BOT)
    ax_t = fig.add_axes(rect(left, top, PW, PH_TOP))
    ax_b = fig.add_axes(rect(left, top + PH_TOP, PW, PH_BOT))
    draw_pair(ax_t, ax_b, pair_data("XIM", i, j), f"{i},{j}", YLIM_M[i], YTICK_M[i],
              show_y=(i == j), show_x=(i == j), which="-")

# legend
handles = [
    Line2D([], [], color=RED, lw=2.2),
    Patch(facecolor="#d3d3d3", edgecolor="#b5b5b5", lw=1.0),
    Line2D([], [], color=TEAL, lw=2.2, marker="|", markersize=15, markeredgewidth=2.0),
    Line2D([], [], color=YELLOW, lw=2.2, marker="|", markersize=15, markeredgewidth=2.0),
]
labels = [r"B-mode $\delta\xi_+|C_\ell^{\rm BB}$", "Fiducial", "PSF contamination",
          "Response 2pt (x10)"]
fig.legend(handles, labels, loc="upper left", bbox_to_anchor=(106 / W, 1 - 12 / H),
           borderaxespad=0, fontsize=11.8, frameon=True, numpoints=1,
           handlelength=2.0, labelspacing=0.42, borderpad=0.42)

# watermark
fig.text(0.513, 0.495, "PRELIMINARY", fontsize=132, color="gray", alpha=0.38,
         rotation=32, ha="center", va="center", rotation_mode="anchor", zorder=100)

fig.savefig("out.png", dpi=DPI, facecolor="white")
